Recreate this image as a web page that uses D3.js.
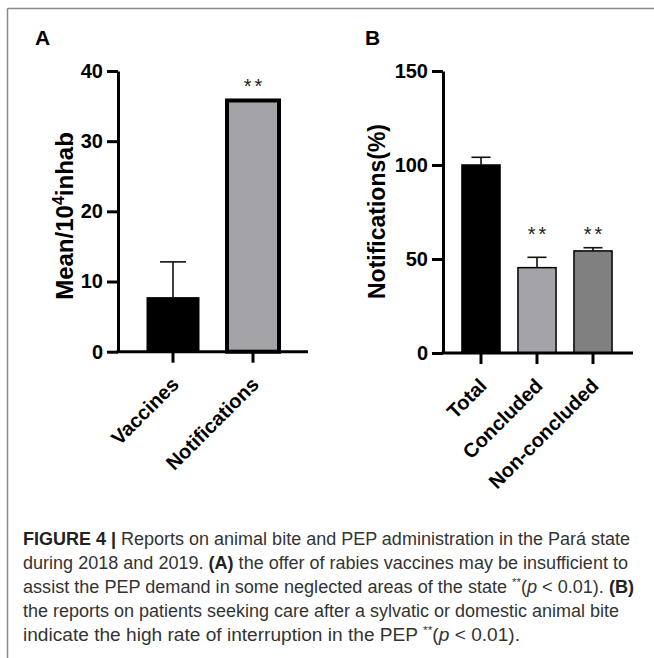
<!DOCTYPE html>
<html>
<head>
<meta charset="utf-8">
<script src="https://cdn.jsdelivr.net/npm/d3@7/dist/d3.min.js"></script>
<style>
  html, body { margin: 0; padding: 0; background: #fff; }
  svg { display: block; }
</style>
</head>
<body>
<svg id="chart" width="654" height="658"></svg>
<script>
// ---------------- DATA ----------------
const panelACategories = ["Vaccines", "Notifications"];
const panelAValues = [7.7, 35.8];
const panelAErrors = [5.1, 0];
const panelASig = ["", "**"];
const panelAYTicks = [0, 10, 20, 30, 40];

const panelBCategories = ["Total", "Concluded", "Non-concluded"];
const panelBValues = [100, 45.4, 54.3];
const panelBErrors = [4.1, 5.5, 1.7];
const panelBSig = ["", "**", "**"];
const panelBYTicks = [0, 50, 100, 150];

// ---------------- DRAW ----------------
const svg = d3.select("#chart");
const FONT = "'Liberation Sans', Arial, Helvetica, sans-serif";

// frame
svg.append("line").attr("x1", 7.5).attr("x2", 654).attr("y1", 8.5).attr("y2", 8.5)
  .attr("stroke", "#8a8a8a").attr("stroke-width", 1.5);
svg.append("line").attr("x1", 7.5).attr("x2", 7.5).attr("y1", 8.5).attr("y2", 658)
  .attr("stroke", "#8a8a8a").attr("stroke-width", 1.5);

function drawPanel(cfg) {
  const g = svg.append("g");
  const y = d3.scaleLinear().domain(cfg.yDomain).range([cfg.y0, cfg.yTop]);
  const x = d3.scaleBand().domain(cfg.categories).range([cfg.axisX, cfg.bandEnd])
    .paddingInner(cfg.pInner).paddingOuter(cfg.pOuter);
  const bw = x.bandwidth();

  // panel letter
  g.append("text").attr("x", cfg.letterX).attr("y", 45).text(cfg.letter)
    .attr("font-family", FONT).attr("font-weight", "bold").attr("font-size", 21).attr("fill", "#000");

  // bars
  const data = cfg.categories.map((c, i) => ({ c, v: cfg.values[i], e: cfg.errors[i], s: cfg.sig[i], i }));
  g.selectAll("rect.bar").data(data).join("rect")
    .attr("class", "bar")
    .attr("x", d => x(d.c)).attr("width", bw)
    .attr("y", d => y(d.v)).attr("height", d => y(0) - y(d.v))
    .attr("fill", d => cfg.fills[d.i])
    .attr("stroke", "#000")
    .attr("stroke-width", d => cfg.strokeW[d.i]);

  // error bars
  const eb = data.filter(d => d.e > 0);
  g.selectAll("line.ev").data(eb).join("line")
    .attr("x1", d => x(d.c) + bw / 2).attr("x2", d => x(d.c) + bw / 2)
    .attr("y1", d => y(d.v)).attr("y2", d => y(d.v + d.e))
    .attr("stroke", "#111").attr("stroke-width", 1.6);
  g.selectAll("line.ec").data(eb).join("line")
    .attr("x1", d => x(d.c) + bw / 4).attr("x2", d => x(d.c) + bw * 3 / 4)
    .attr("y1", d => y(d.v + d.e)).attr("y2", d => y(d.v + d.e))
    .attr("stroke", "#111").attr("stroke-width", 1.6);

  // significance marks
  const sigData = data.filter(d => d.s);
  const sigLevel = d3.max(sigData, d => d.v + d.e);
  g.selectAll("text.sig").data(sigData).join("text")
    .attr("x", d => x(d.c) + bw / 2 + 1.5).attr("y", y(sigLevel) - 7)
    .attr("text-anchor", "middle")
    .attr("font-family", FONT).attr("font-size", 20).attr("letter-spacing", 3)
    .attr("fill", "#222")
    .text(d => d.s);

  // y axis
  const ya = g.append("g").attr("transform", `translate(${cfg.axisX},0)`)
    .call(d3.axisLeft(y).tickValues(cfg.yTicks).tickSize(11).tickPadding(4).tickSizeOuter(0));
  ya.select(".domain").attr("stroke-width", 3).attr("stroke", "#000");
  ya.selectAll(".tick line").attr("stroke-width", 3).attr("stroke", "#000");
  ya.selectAll(".tick text").attr("font-family", FONT).attr("font-weight", "bold")
    .attr("font-size", 20).attr("fill", "#000");

  // x axis
  const xa = g.append("g").attr("transform", `translate(0,${cfg.y0})`)
    .call(d3.axisBottom(x).tickSize(11).tickSizeOuter(0));
  xa.select(".domain").remove();
  xa.selectAll(".tick line").attr("stroke-width", 3).attr("stroke", "#000");
  xa.selectAll(".tick text")
    .attr("y", 0).attr("dy", 0).attr("x", 0)
    .attr("text-anchor", "end")
    .attr("transform", "translate(7,34) rotate(-45)")
    .attr("font-family", FONT).attr("font-weight", "bold").attr("font-size", 20).attr("fill", "#000");
  g.append("line").attr("x1", cfg.axisX - 1.5).attr("x2", cfg.axisEnd)
    .attr("y1", cfg.y0).attr("y2", cfg.y0).attr("stroke", "#000").attr("stroke-width", 3);

  // y label
  const yl = g.append("text")
    .attr("transform", `translate(${cfg.labelX},${cfg.labelY}) rotate(-90)`)
    .attr("text-anchor", "middle")
    .attr("font-family", FONT).attr("font-weight", "bold").attr("font-size", cfg.labelSize).attr("fill", "#000");
  cfg.label.forEach(p => {
    const t = yl.append("tspan").text(p.t);
    if (p.sup) t.attr("dy", -9).attr("font-size", 16);
    if (p.after) t.attr("dy", 9);
  });
}

drawPanel({
  letter: "A", letterX: 35,
  categories: panelACategories, values: panelAValues, errors: panelAErrors, sig: panelASig,
  yTicks: panelAYTicks, yDomain: [0, 40],
  y0: 351.7, yTop: 71, axisX: 118, bandEnd: 308, axisEnd: 308,
  pInner: 0.35, pOuter: 0.3625,
  fills: ["#000000", "#a3a3a8"], strokeW: [1, 4],
  labelX: 73, labelY: 216, labelSize: 24,
  label: [{ t: "Mean/10" }, { t: "4", sup: true }, { t: "inhab", after: true }]
});

drawPanel({
  letter: "B", letterX: 365,
  categories: panelBCategories, values: panelBValues, errors: panelBErrors, sig: panelBSig,
  yTicks: panelBYTicks, yDomain: [0, 150],
  y0: 353, yTop: 71, axisX: 443, bandEnd: 631, axisEnd: 633,
  pInner: 0.32, pOuter: 0.3385,
  fills: ["#000000", "#a3a3a8", "#808080"], strokeW: [1.5, 1.5, 1.5],
  labelX: 385, labelY: 211.5, labelSize: 23,
  label: [{ t: "Notifications(%)" }]
});

// ---------------- CAPTION ----------------
const captionLines = [
  { w: 607, parts: [{ t: "FIGURE 4 | ", b: true }, { t: "Reports on animal bite and PEP administration in the Pará state" }] },
  { w: 605, parts: [{ t: "during 2018 and 2019. " }, { t: "(A)", b: true }, { t: " the offer of rabies vaccines may be insufficient to" }] },
  { w: 611, parts: [{ t: "assist the PEP demand in some neglected areas of the state " }, { t: "**", sup: true }, { t: "(", after: true }, { t: "p", i: true }, { t: " < 0.01). " }, { t: "(B)", b: true }] },
  { w: 596, parts: [{ t: "the reports on patients seeking care after a sylvatic or domestic animal bite" }] },
  { w: 497, parts: [{ t: "indicate the high rate of interruption in the PEP " }, { t: "**", sup: true }, { t: "(", after: true }, { t: "p", i: true }, { t: " < 0.01)." }] }
];
captionLines.forEach((line, k) => {
  const t = svg.append("text")
    .attr("x", 23).attr("y", 545 + k * 24)
    .attr("font-family", FONT).attr("font-size", 17.5).attr("fill", "#333")
    .attr("textLength", line.w).attr("lengthAdjust", "spacingAndGlyphs");
  line.parts.forEach(p => {
    const s = t.append("tspan").text(p.t);
    if (p.b) s.attr("font-weight", "bold").attr("fill", "#222");
    if (p.i) s.attr("font-style", "italic");
    if (p.sup) s.attr("dy", -7).attr("font-size", 11);
    if (p.after) s.attr("dy", 7);
  });
});
</script>
</body>
</html>
